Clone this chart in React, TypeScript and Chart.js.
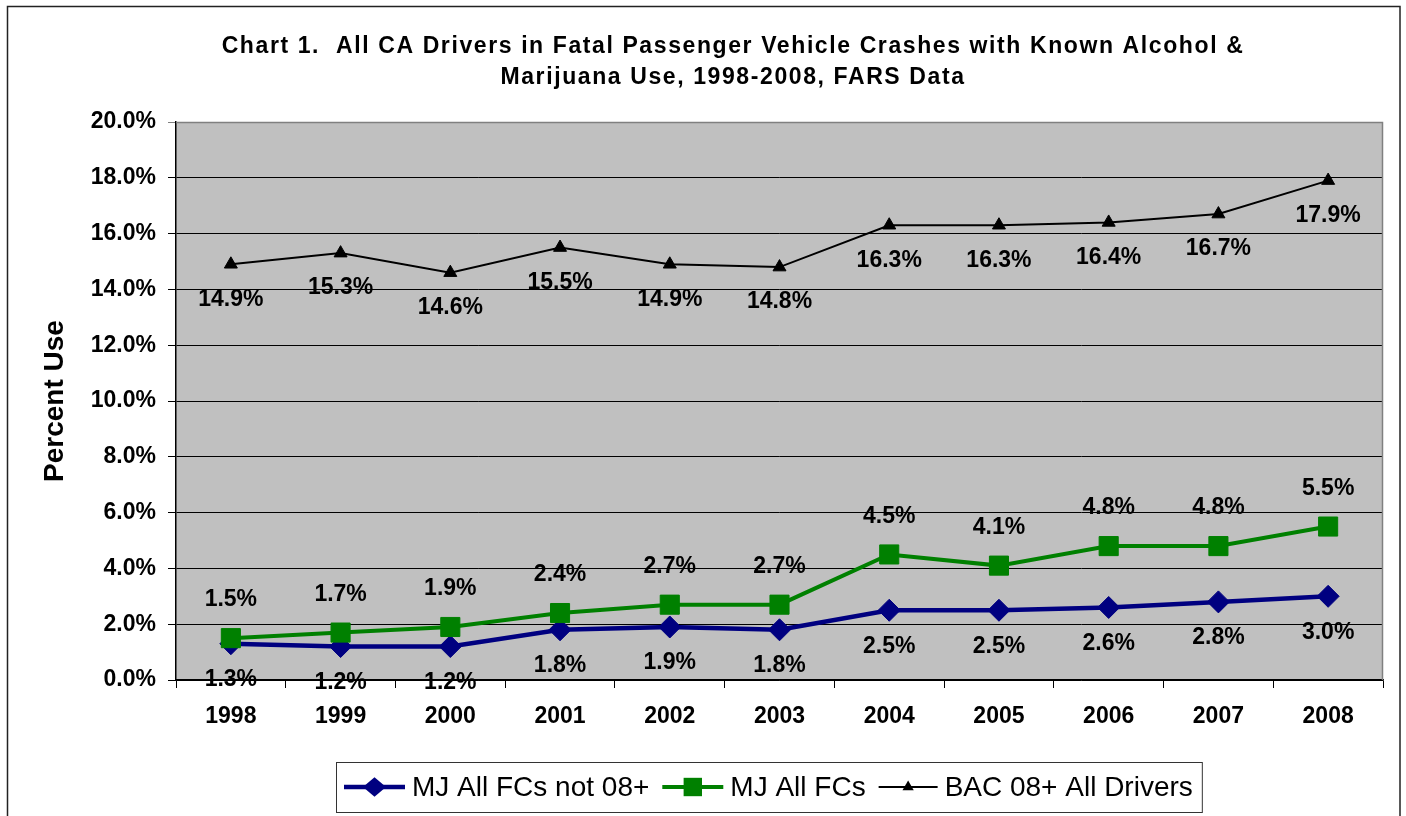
import React, { useEffect, useRef } from "react";
import { Chart, registerables } from "chart.js";

Chart.register(...registerables);

const FONT = '"Liberation Sans", Arial, Helvetica, sans-serif';

const years = ["1998", "1999", "2000", "2001", "2002", "2003", "2004", "2005", "2006", "2007", "2008"];
const mjNot08 = [1.3, 1.2, 1.2, 1.8, 1.9, 1.8, 2.5, 2.5, 2.6, 2.8, 3.0];
const mjAll = [1.5, 1.7, 1.9, 2.4, 2.7, 2.7, 4.5, 4.1, 4.8, 4.8, 5.5];
const bac08 = [14.9, 15.3, 14.6, 15.5, 14.9, 14.8, 16.3, 16.3, 16.4, 16.7, 17.9];
const seriesNames = ["MJ All FCs not 08+", "MJ All FCs", "BAC 08+ All Drivers"];
const titleLines = [
  "Chart 1.  All CA Drivers in Fatal Passenger Vehicle Crashes with Known Alcohol &",
  "Marijuana Use, 1998-2008, FARS Data",
];
const yAxisTitle = "Percent Use";
const yMin = 0;
const yMax = 20;
const yStep = 2;

const W = 1406;
const H = 816;

function drawMarker(ctx: CanvasRenderingContext2D, style: string, x: number, y: number, r: number, color: string) {
  ctx.save();
  ctx.fillStyle = color;
  ctx.beginPath();
  if (style === "rectRot") {
    ctx.moveTo(x, y - r * 0.85);
    ctx.lineTo(x + r, y);
    ctx.lineTo(x, y + r * 0.85);
    ctx.lineTo(x - r, y);
  } else if (style === "rect") {
    const s = r * Math.SQRT1_2;
    ctx.rect(x - s, y - s, 2 * s, 2 * s);
  } else {
    ctx.moveTo(x, y - r);
    ctx.lineTo(x + r * 0.866, y + r * 0.5);
    ctx.lineTo(x - r * 0.866, y + r * 0.5);
  }
  ctx.closePath();
  ctx.fill();
  ctx.restore();
}

const backgroundPlugin = {
  id: "bgFrame",
  beforeDraw(chart: any) {
    const { ctx, chartArea: a, width, height } = chart;
    ctx.save();
    ctx.fillStyle = "#ffffff";
    ctx.fillRect(0, 0, width, height);
    ctx.strokeStyle = "#222222";
    ctx.lineWidth = 1.5;
    ctx.strokeRect(7.5, 6.5, 1392.5, height + 20);
    ctx.fillStyle = "#C0C0C0";
    ctx.fillRect(a.left, a.top, a.right - a.left, a.bottom - a.top);
    ctx.fillStyle = "#000";
    ctx.font = `bold 23px ${FONT}`;
    ctx.textAlign = "center";
    ctx.textBaseline = "middle";
    (ctx as any).letterSpacing = "1.6px";
    titleLines.forEach((t, i) => ctx.fillText(t, 733, 47 + i * 31));
    (ctx as any).letterSpacing = "0px";
    ctx.restore();
  },
  beforeDatasetsDraw(chart: any) {
    const { ctx, chartArea: a } = chart;
    ctx.save();
    ctx.strokeStyle = "#808080";
    ctx.lineWidth = 1.5;
    ctx.beginPath();
    ctx.moveTo(a.left, a.top + 0.5);
    ctx.lineTo(a.right - 0.5, a.top + 0.5);
    ctx.lineTo(a.right - 0.5, a.bottom);
    ctx.stroke();
    ctx.restore();
  },
};

const dataLabelOffsets = [36, -38, 35];

const dataLabelPlugin = {
  id: "dataLabels",
  afterDatasetsDraw(chart: any) {
    const { ctx } = chart;
    ctx.save();
    ctx.font = `bold 23px ${FONT}`;
    ctx.fillStyle = "#000";
    ctx.textAlign = "center";
    ctx.textBaseline = "middle";
    chart.data.datasets.forEach((ds: any, i: number) => {
      const meta = chart.getDatasetMeta(i);
      meta.data.forEach((el: any, j: number) => {
        const v = ds.data[j];
        ctx.fillText(Number(v).toFixed(1) + "%", el.x, el.y + dataLabelOffsets[i]);
      });
    });
    ctx.restore();
  },
};

const legendPlugin = {
  id: "boxLegend",
  afterDraw(chart: any) {
    const { ctx } = chart;
    const boxLeft = 336;
    const boxTop = 762;
    const boxH = 50;
    const cy = boxTop + boxH / 2;
    ctx.save();
    ctx.font = `28px ${FONT}`;
    ctx.textBaseline = "middle";
    ctx.textAlign = "left";
    let x = 344;
    chart.data.datasets.forEach((ds: any, i: number) => {
      const lineLen = i === 2 ? 59 : 61;
      ctx.strokeStyle = ds.borderColor;
      ctx.lineWidth = ds.borderWidth;
      ctx.beginPath();
      ctx.moveTo(x, cy);
      ctx.lineTo(x + lineLen, cy);
      ctx.stroke();
      const r = ds.pointStyle === "rectRot" ? 11.5 : ds.pointStyle === "rect" ? 13 : 6.5;
      drawMarker(ctx, ds.pointStyle, x + lineLen / 2, cy, r, ds.borderColor);
      x += lineLen + 7;
      ctx.fillStyle = "#000";
      ctx.fillText(ds.label, x, cy + 1);
      x += ctx.measureText(ds.label).width;
      if (i < chart.data.datasets.length - 1) x += 13;
    });
    const boxRight = x + 9;
    ctx.strokeStyle = "#333";
    ctx.lineWidth = 1;
    ctx.strokeRect(boxLeft + 0.5, boxTop + 0.5, boxRight - boxLeft, boxH);
    ctx.restore();
  },
};

export default function App() {
  const canvasRef = useRef<HTMLCanvasElement | null>(null);

  useEffect(() => {
    const canvas = canvasRef.current;
    if (!canvas) return;
    Chart.defaults.font.family = FONT;
    const chart = new Chart(canvas, {
      type: "line",
      data: {
        labels: years,
        datasets: [
          {
            label: seriesNames[0],
            data: mjNot08,
            borderColor: "#000080",
            backgroundColor: "#000080",
            borderWidth: 4.5,
            pointStyle: "rectRot",
            pointRadius: 11,
            pointBorderWidth: 1,
            pointBackgroundColor: "#000080",
            pointBorderColor: "#000080",
            tension: 0,
            order: 1,
          },
          {
            label: seriesNames[1],
            data: mjAll,
            borderColor: "#008000",
            backgroundColor: "#008000",
            borderWidth: 4,
            pointStyle: "rect",
            pointRadius: 13.5,
            pointBorderWidth: 1,
            pointBackgroundColor: "#008000",
            pointBorderColor: "#008000",
            tension: 0,
            order: 0,
          },
          {
            label: seriesNames[2],
            data: bac08,
            borderColor: "#000000",
            backgroundColor: "#000000",
            borderWidth: 2,
            pointStyle: "triangle",
            pointRadius: 7.5,
            pointBorderWidth: 1,
            pointBackgroundColor: "#000000",
            pointBorderColor: "#000000",
            tension: 0,
            order: 2,
          },
        ],
      },
      options: {
        responsive: false,
        animation: false,
        devicePixelRatio: 1,
        events: [],
        layout: { padding: { top: 122, right: 23, bottom: 0, left: 0 } },
        plugins: {
          legend: { display: false },
          title: { display: false },
          tooltip: { enabled: false },
        },
        scales: {
          x: {
            type: "category",
            offset: true,
            grid: {
              offset: true,
              drawOnChartArea: false,
              drawTicks: true,
              tickLength: 8,
              color: "#000",
            },
            border: { color: "#000", width: 1.5 },
            ticks: {
              font: { family: FONT, size: 23, weight: "bold" },
              color: "#000",
              padding: 15,
              maxRotation: 0,
              autoSkip: false,
            },
            afterFit(scale: any) {
              scale.height = 136;
            },
          },
          y: {
            min: yMin,
            max: yMax,
            ticks: {
              stepSize: yStep,
              callback: (v: any) => Number(v).toFixed(1) + "%",
              font: { family: FONT, size: 23, weight: "bold" },
              color: "#000",
              padding: 12,
            },
            grid: {
              color: (c: any) => (c.tick && c.tick.value === yMax ? "#808080" : "#000"),
              lineWidth: 1,
              drawTicks: true,
              tickLength: 8,
            },
            border: { color: "#000", width: 1.5 },
            title: {
              display: true,
              text: yAxisTitle,
              font: { family: FONT, size: 28, weight: "bold" },
              color: "#000",
              padding: { top: 38, bottom: 0 },
            },
            afterFit(scale: any) {
              scale.width = 176;
            },
          },
        },
      },
      plugins: [backgroundPlugin, dataLabelPlugin, legendPlugin],
    } as any);
    return () => chart.destroy();
  }, []);

  return (
    <div style={{ position: "fixed", left: 0, top: 0, width: W, height: H, background: "#fff" }}>
      <canvas ref={canvasRef} width={W} height={H} style={{ display: "block", width: W, height: H }} />
    </div>
  );
}
